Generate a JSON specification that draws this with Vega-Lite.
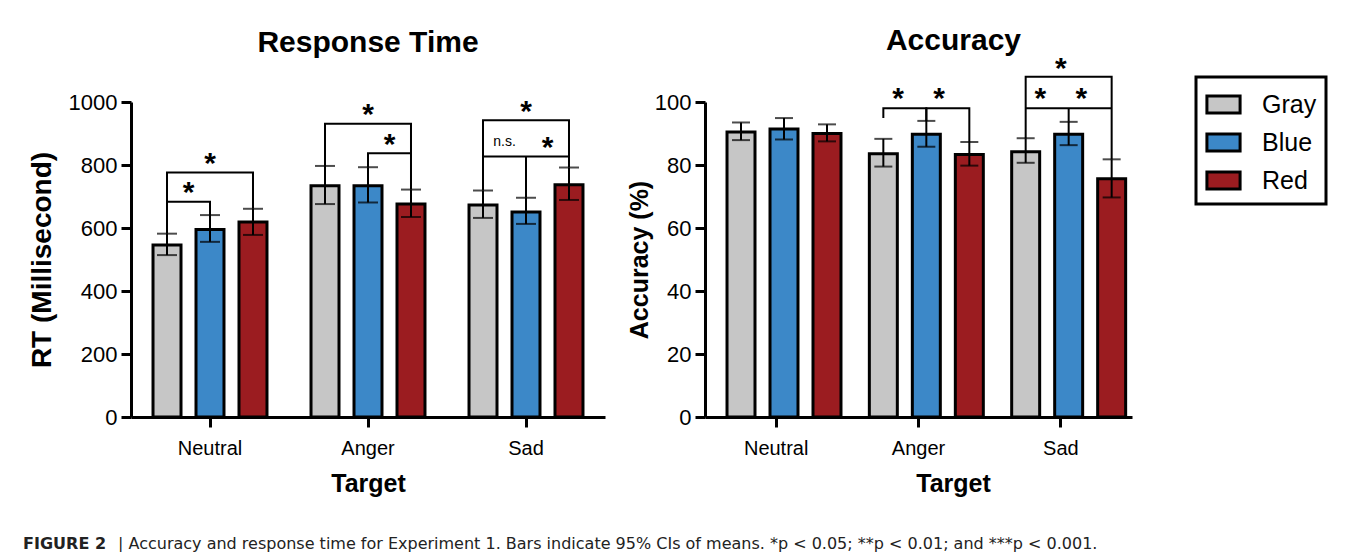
{
  "$schema": "https://vega.github.io/schema/vega-lite/v6.json",
  "padding": {"left": 23, "top": 26, "right": 0, "bottom": 0},
  "background": "white",
  "datasets": {
    "bars": [
      {"measure": "RT", "Target": "Neutral", "Color": "Gray", "mean": 546, "lo": 514, "hi": 582},
      {"measure": "RT", "Target": "Neutral", "Color": "Blue", "mean": 595, "lo": 556, "hi": 641},
      {"measure": "RT", "Target": "Neutral", "Color": "Red", "mean": 619, "lo": 578, "hi": 661},
      {"measure": "RT", "Target": "Anger", "Color": "Gray", "mean": 734, "lo": 676, "hi": 797},
      {"measure": "RT", "Target": "Anger", "Color": "Blue", "mean": 734, "lo": 681, "hi": 793},
      {"measure": "RT", "Target": "Anger", "Color": "Red", "mean": 676, "lo": 635, "hi": 722},
      {"measure": "RT", "Target": "Sad", "Color": "Gray", "mean": 673, "lo": 632, "hi": 719},
      {"measure": "RT", "Target": "Sad", "Color": "Blue", "mean": 651, "lo": 613, "hi": 696},
      {"measure": "RT", "Target": "Sad", "Color": "Red", "mean": 737, "lo": 689, "hi": 792},
      {"measure": "ACC", "Target": "Neutral", "Color": "Gray", "mean": 90.5, "lo": 87.9, "hi": 93.5},
      {"measure": "ACC", "Target": "Neutral", "Color": "Blue", "mean": 91.4, "lo": 88.1, "hi": 94.9},
      {"measure": "ACC", "Target": "Neutral", "Color": "Red", "mean": 90.0, "lo": 87.5, "hi": 92.9},
      {"measure": "ACC", "Target": "Anger", "Color": "Gray", "mean": 83.6, "lo": 79.5, "hi": 88.3},
      {"measure": "ACC", "Target": "Anger", "Color": "Blue", "mean": 89.8, "lo": 85.8, "hi": 94.0},
      {"measure": "ACC", "Target": "Anger", "Color": "Red", "mean": 83.3, "lo": 79.8, "hi": 87.3},
      {"measure": "ACC", "Target": "Sad", "Color": "Gray", "mean": 84.2, "lo": 80.7, "hi": 88.5},
      {"measure": "ACC", "Target": "Sad", "Color": "Blue", "mean": 89.8, "lo": 86.3, "hi": 93.7},
      {"measure": "ACC", "Target": "Sad", "Color": "Red", "mean": 75.6, "lo": 69.7, "hi": 81.8}
    ],
    "brackets": [
      {"measure": "RT", "id": "r1", "ord": 1, "Target": "Neutral", "Color": "Gray", "v": 582},
      {"measure": "RT", "id": "r1", "ord": 2, "Target": "Neutral", "Color": "Gray", "v": 776},
      {"measure": "RT", "id": "r1", "ord": 3, "Target": "Neutral", "Color": "Red", "v": 776},
      {"measure": "RT", "id": "r1", "ord": 4, "Target": "Neutral", "Color": "Red", "v": 661},
      {"measure": "RT", "id": "r2", "ord": 1, "Target": "Neutral", "Color": "Gray", "v": 683},
      {"measure": "RT", "id": "r2", "ord": 2, "Target": "Neutral", "Color": "Blue", "v": 683},
      {"measure": "RT", "id": "r2", "ord": 3, "Target": "Neutral", "Color": "Blue", "v": 641},
      {"measure": "RT", "id": "r3", "ord": 1, "Target": "Anger", "Color": "Gray", "v": 797},
      {"measure": "RT", "id": "r3", "ord": 2, "Target": "Anger", "Color": "Gray", "v": 931},
      {"measure": "RT", "id": "r3", "ord": 3, "Target": "Anger", "Color": "Red", "v": 931},
      {"measure": "RT", "id": "r3", "ord": 4, "Target": "Anger", "Color": "Red", "v": 722},
      {"measure": "RT", "id": "r4", "ord": 1, "Target": "Anger", "Color": "Blue", "v": 793},
      {"measure": "RT", "id": "r4", "ord": 2, "Target": "Anger", "Color": "Blue", "v": 837},
      {"measure": "RT", "id": "r4", "ord": 3, "Target": "Anger", "Color": "Red", "v": 837},
      {"measure": "RT", "id": "r5", "ord": 1, "Target": "Sad", "Color": "Gray", "v": 719},
      {"measure": "RT", "id": "r5", "ord": 2, "Target": "Sad", "Color": "Gray", "v": 942},
      {"measure": "RT", "id": "r5", "ord": 3, "Target": "Sad", "Color": "Red", "v": 942},
      {"measure": "RT", "id": "r5", "ord": 4, "Target": "Sad", "Color": "Red", "v": 792},
      {"measure": "RT", "id": "r6", "ord": 1, "Target": "Sad", "Color": "Gray", "v": 827},
      {"measure": "RT", "id": "r6", "ord": 2, "Target": "Sad", "Color": "Red", "v": 827},
      {"measure": "RT", "id": "r7", "ord": 1, "Target": "Sad", "Color": "Blue", "v": 827},
      {"measure": "RT", "id": "r7", "ord": 2, "Target": "Sad", "Color": "Blue", "v": 696},
      {"measure": "ACC", "id": "a1", "ord": 1, "Target": "Anger", "Color": "Gray", "v": 94.9},
      {"measure": "ACC", "id": "a1", "ord": 2, "Target": "Anger", "Color": "Gray", "v": 98},
      {"measure": "ACC", "id": "a1", "ord": 3, "Target": "Anger", "Color": "Blue", "v": 98},
      {"measure": "ACC", "id": "a1", "ord": 4, "Target": "Anger", "Color": "Blue", "v": 94.0},
      {"measure": "ACC", "id": "a2", "ord": 1, "Target": "Anger", "Color": "Blue", "v": 94.0},
      {"measure": "ACC", "id": "a2", "ord": 2, "Target": "Anger", "Color": "Blue", "v": 98},
      {"measure": "ACC", "id": "a2", "ord": 3, "Target": "Anger", "Color": "Red", "v": 98},
      {"measure": "ACC", "id": "a2", "ord": 4, "Target": "Anger", "Color": "Red", "v": 87.3},
      {"measure": "ACC", "id": "a3", "ord": 1, "Target": "Sad", "Color": "Gray", "v": 88.5},
      {"measure": "ACC", "id": "a3", "ord": 2, "Target": "Sad", "Color": "Gray", "v": 108},
      {"measure": "ACC", "id": "a3", "ord": 3, "Target": "Sad", "Color": "Red", "v": 108},
      {"measure": "ACC", "id": "a3", "ord": 4, "Target": "Sad", "Color": "Red", "v": 81.8},
      {"measure": "ACC", "id": "a4", "ord": 1, "Target": "Sad", "Color": "Gray", "v": 98},
      {"measure": "ACC", "id": "a4", "ord": 2, "Target": "Sad", "Color": "Red", "v": 98},
      {"measure": "ACC", "id": "a5", "ord": 1, "Target": "Sad", "Color": "Blue", "v": 98},
      {"measure": "ACC", "id": "a5", "ord": 2, "Target": "Sad", "Color": "Blue", "v": 93.7}
    ],
    "stars": [
      {"measure": "RT", "Target": "Neutral", "side": "center", "v": 828, "label": "*"},
      {"measure": "RT", "Target": "Neutral", "side": "left", "v": 736, "label": "*"},
      {"measure": "RT", "Target": "Anger", "side": "center", "v": 983, "label": "*"},
      {"measure": "RT", "Target": "Anger", "side": "right", "v": 889, "label": "*"},
      {"measure": "RT", "Target": "Sad", "side": "center", "v": 994, "label": "*"},
      {"measure": "RT", "Target": "Sad", "side": "right", "v": 879, "label": "*"},
      {"measure": "ACC", "Target": "Anger", "side": "left", "v": 103.5, "label": "*"},
      {"measure": "ACC", "Target": "Anger", "side": "right", "v": 103.5, "label": "*"},
      {"measure": "ACC", "Target": "Sad", "side": "left", "v": 103.5, "label": "*"},
      {"measure": "ACC", "Target": "Sad", "side": "right", "v": 103.5, "label": "*"},
      {"measure": "ACC", "Target": "Sad", "side": "center", "v": 113, "label": "*"}
    ],
    "notes": [
      {"measure": "RT", "Target": "Sad", "side": "left", "v": 872, "label": "n.s."}
    ]
  },
  "title": {"text": "FIGURE 2", "orient": "bottom", "anchor": "start", "font": "DejaVu Sans", "fontSize": 16, "fontWeight": "bold", "color": "#222", "offset": 0, "dx": -5, "dy": -16},
  "vconcat": [
    {
      "title": {"text": "|  Accuracy and response time for Experiment 1. Bars indicate 95% CIs of means. *p < 0.05; **p < 0.01; and ***p < 0.001.", "orient": "bottom", "anchor": "start", "font": "DejaVu Sans", "fontSize": 16, "fontWeight": "normal", "color": "#222", "offset": 40, "dx": 90},
      "hconcat": [
        {
          "width": 474,
          "height": 315,
          "title": {"text": "Response Time", "font": "Liberation Sans", "fontSize": 30, "fontWeight": "bold", "color": "black", "anchor": "middle", "frame": "group", "offset": 33},
          "layer": [
            {
              "data": {"name": "bars"},
              "transform": [{"filter": "datum.measure === 'RT'"}],
              "mark": {"type": "bar", "stroke": "black", "strokeWidth": 3},
              "encoding": {
                "x": {"field": "Target", "type": "nominal", "sort": ["Neutral", "Anger", "Sad"], "scale": {"paddingInner": 0, "paddingOuter": 0}, "axis": {"title": "Target", "labelAngle": 0}},
                "xOffset": {"field": "Color", "type": "nominal", "sort": ["Gray", "Blue", "Red"], "scale": {"paddingInner": 0.349, "paddingOuter": 0.512}},
                "y": {"field": "mean", "type": "quantitative", "title": "RT (Millisecond)", "scale": {"domain": [0, 1000], "nice": false}, "axis": {"values": [0, 200, 400, 600, 800, 1000], "format": "d", "titlePadding": 12, "titleFontSize": 28}},
                "color": {"field": "Color", "type": "nominal", "sort": ["Gray", "Blue", "Red"], "scale": {"domain": ["Gray", "Blue", "Red"], "range": ["#c6c6c6", "#3c88c8", "#9b1c20"]}, "legend": {"orient": "none", "legendX": 1065, "legendY": -25, "title": null}}
              }
            },
            {
              "data": {"name": "bars"},
              "transform": [{"filter": "datum.measure === 'RT'"}],
              "mark": {"type": "rule", "color": "black", "strokeWidth": 2},
              "encoding": {
                "x": {"field": "Target", "type": "nominal", "sort": ["Neutral", "Anger", "Sad"]},
                "xOffset": {"field": "Color", "type": "nominal", "sort": ["Gray", "Blue", "Red"]},
                "y": {"field": "lo", "type": "quantitative", "title": "RT (Millisecond)"},
                "y2": {"field": "hi"}
              }
            },
            {
              "data": {"name": "bars"},
              "transform": [{"filter": "datum.measure === 'RT'"}],
              "mark": {"type": "tick", "color": "black", "thickness": 2, "size": 20},
              "encoding": {
                "x": {"field": "Target", "type": "nominal", "sort": ["Neutral", "Anger", "Sad"]},
                "xOffset": {"field": "Color", "type": "nominal", "sort": ["Gray", "Blue", "Red"]},
                "y": {"field": "lo", "type": "quantitative", "title": "RT (Millisecond)"}
              }
            },
            {
              "data": {"name": "bars"},
              "transform": [{"filter": "datum.measure === 'RT'"}],
              "mark": {"type": "tick", "color": "black", "thickness": 2, "size": 20},
              "encoding": {
                "x": {"field": "Target", "type": "nominal", "sort": ["Neutral", "Anger", "Sad"]},
                "xOffset": {"field": "Color", "type": "nominal", "sort": ["Gray", "Blue", "Red"]},
                "y": {"field": "hi", "type": "quantitative", "title": "RT (Millisecond)"}
              }
            },
            {
              "data": {"name": "brackets"},
              "transform": [{"filter": "datum.measure === 'RT'"}],
              "mark": {"type": "line", "color": "black", "strokeWidth": 2, "strokeJoin": "miter"},
              "encoding": {
                "x": {"field": "Target", "type": "nominal", "sort": ["Neutral", "Anger", "Sad"]},
                "xOffset": {"field": "Color", "type": "nominal", "sort": ["Gray", "Blue", "Red"]},
                "y": {"field": "v", "type": "quantitative", "title": "RT (Millisecond)"},
                "detail": {"field": "id"},
                "order": {"field": "ord", "type": "quantitative"}
              }
            },
            {
              "data": {"name": "stars"},
              "transform": [{"filter": "datum.measure === 'RT' && datum.side === 'center'"}],
              "mark": {"type": "text", "font": "Liberation Sans", "fontSize": 30, "fontWeight": "bold", "baseline": "alphabetic", "dy": 17, "color": "black"},
              "encoding": {
                "x": {"field": "Target", "type": "nominal", "sort": ["Neutral", "Anger", "Sad"]},
                "y": {"field": "v", "type": "quantitative", "title": "RT (Millisecond)"},
                "text": {"field": "label"}
              }
            },
            {
              "data": {"name": "stars"},
              "transform": [{"filter": "datum.measure === 'RT' && datum.side === 'left'"}],
              "mark": {"type": "text", "font": "Liberation Sans", "fontSize": 30, "fontWeight": "bold", "baseline": "alphabetic", "dy": 17, "dx": -21.5, "color": "black"},
              "encoding": {
                "x": {"field": "Target", "type": "nominal", "sort": ["Neutral", "Anger", "Sad"]},
                "y": {"field": "v", "type": "quantitative", "title": "RT (Millisecond)"},
                "text": {"field": "label"}
              }
            },
            {
              "data": {"name": "stars"},
              "transform": [{"filter": "datum.measure === 'RT' && datum.side === 'right'"}],
              "mark": {"type": "text", "font": "Liberation Sans", "fontSize": 30, "fontWeight": "bold", "baseline": "alphabetic", "dy": 17, "dx": 21.5, "color": "black"},
              "encoding": {
                "x": {"field": "Target", "type": "nominal", "sort": ["Neutral", "Anger", "Sad"]},
                "y": {"field": "v", "type": "quantitative", "title": "RT (Millisecond)"},
                "text": {"field": "label"}
              }
            },
            {
              "data": {"name": "notes"},
              "mark": {"type": "text", "font": "Liberation Sans", "fontSize": 14, "baseline": "middle", "dx": -21.5, "color": "black"},
              "encoding": {
                "x": {"field": "Target", "type": "nominal", "sort": ["Neutral", "Anger", "Sad"]},
                "y": {"field": "v", "type": "quantitative", "title": "RT (Millisecond)"},
                "text": {"field": "label"}
              }
            }
          ]
        },
        {
          "width": 427,
          "height": 315,
          "title": {"text": "Accuracy", "font": "Liberation Sans", "fontSize": 30, "fontWeight": "bold", "color": "black", "anchor": "middle", "frame": "group", "offset": -2, "dx": 35},
          "layer": [
            {
              "data": {"name": "bars"},
              "transform": [{"filter": "datum.measure === 'ACC'"}],
              "mark": {"type": "bar", "stroke": "black", "strokeWidth": 3},
              "encoding": {
                "x": {"field": "Target", "type": "nominal", "sort": ["Neutral", "Anger", "Sad"], "scale": {"paddingInner": 0, "paddingOuter": 0}, "axis": {"title": "Target", "labelAngle": 0, "titleX": 248}},
                "xOffset": {"field": "Color", "type": "nominal", "sort": ["Gray", "Blue", "Red"], "scale": {"paddingInner": 0.4, "paddingOuter": 0.45}},
                "y": {"field": "mean", "type": "quantitative", "title": "Accuracy (%)", "scale": {"domain": [0, 100], "nice": false}, "axis": {"values": [0, 20, 40, 60, 80, 100], "format": "d", "titlePadding": 2, "titleFontSize": 25}},
                "color": {"field": "Color", "type": "nominal", "sort": ["Gray", "Blue", "Red"], "scale": {"domain": ["Gray", "Blue", "Red"], "range": ["#c6c6c6", "#3c88c8", "#9b1c20"]}, "legend": {"orient": "none", "legendX": 1065, "legendY": -25, "title": null}}
              }
            },
            {
              "data": {"name": "bars"},
              "transform": [{"filter": "datum.measure === 'ACC'"}],
              "mark": {"type": "rule", "color": "black", "strokeWidth": 2},
              "encoding": {
                "x": {"field": "Target", "type": "nominal", "sort": ["Neutral", "Anger", "Sad"]},
                "xOffset": {"field": "Color", "type": "nominal", "sort": ["Gray", "Blue", "Red"]},
                "y": {"field": "lo", "type": "quantitative", "title": "Accuracy (%)"},
                "y2": {"field": "hi"}
              }
            },
            {
              "data": {"name": "bars"},
              "transform": [{"filter": "datum.measure === 'ACC'"}],
              "mark": {"type": "tick", "color": "black", "thickness": 2, "size": 18},
              "encoding": {
                "x": {"field": "Target", "type": "nominal", "sort": ["Neutral", "Anger", "Sad"]},
                "xOffset": {"field": "Color", "type": "nominal", "sort": ["Gray", "Blue", "Red"]},
                "y": {"field": "lo", "type": "quantitative", "title": "Accuracy (%)"}
              }
            },
            {
              "data": {"name": "bars"},
              "transform": [{"filter": "datum.measure === 'ACC'"}],
              "mark": {"type": "tick", "color": "black", "thickness": 2, "size": 18},
              "encoding": {
                "x": {"field": "Target", "type": "nominal", "sort": ["Neutral", "Anger", "Sad"]},
                "xOffset": {"field": "Color", "type": "nominal", "sort": ["Gray", "Blue", "Red"]},
                "y": {"field": "hi", "type": "quantitative", "title": "Accuracy (%)"}
              }
            },
            {
              "data": {"name": "brackets"},
              "transform": [{"filter": "datum.measure === 'ACC'"}],
              "mark": {"type": "line", "color": "black", "strokeWidth": 2, "strokeJoin": "miter"},
              "encoding": {
                "x": {"field": "Target", "type": "nominal", "sort": ["Neutral", "Anger", "Sad"]},
                "xOffset": {"field": "Color", "type": "nominal", "sort": ["Gray", "Blue", "Red"]},
                "y": {"field": "v", "type": "quantitative", "title": "Accuracy (%)"},
                "detail": {"field": "id"},
                "order": {"field": "ord", "type": "quantitative"}
              }
            },
            {
              "data": {"name": "stars"},
              "transform": [{"filter": "datum.measure === 'ACC' && datum.side === 'center'"}],
              "mark": {"type": "text", "font": "Liberation Sans", "fontSize": 30, "fontWeight": "bold", "baseline": "alphabetic", "dy": 17, "color": "black"},
              "encoding": {
                "x": {"field": "Target", "type": "nominal", "sort": ["Neutral", "Anger", "Sad"]},
                "y": {"field": "v", "type": "quantitative", "title": "Accuracy (%)"},
                "text": {"field": "label"}
              }
            },
            {
              "data": {"name": "stars"},
              "transform": [{"filter": "datum.measure === 'ACC' && datum.side === 'left'"}],
              "mark": {"type": "text", "font": "Liberation Sans", "fontSize": 30, "fontWeight": "bold", "baseline": "alphabetic", "dy": 17, "dx": -20.5, "color": "black"},
              "encoding": {
                "x": {"field": "Target", "type": "nominal", "sort": ["Neutral", "Anger", "Sad"]},
                "y": {"field": "v", "type": "quantitative", "title": "Accuracy (%)"},
                "text": {"field": "label"}
              }
            },
            {
              "data": {"name": "stars"},
              "transform": [{"filter": "datum.measure === 'ACC' && datum.side === 'right'"}],
              "mark": {"type": "text", "font": "Liberation Sans", "fontSize": 30, "fontWeight": "bold", "baseline": "alphabetic", "dy": 17, "dx": 20.5, "color": "black"},
              "encoding": {
                "x": {"field": "Target", "type": "nominal", "sort": ["Neutral", "Anger", "Sad"]},
                "y": {"field": "v", "type": "quantitative", "title": "Accuracy (%)"},
                "text": {"field": "label"}
              }
            }
          ]
        }
      ],
      "spacing": 22
    }
  ],
  "config": {
    "view": {"stroke": null},
    "font": "Liberation Sans",
    "axis": {
      "domainColor": "black", "domainWidth": 3, "tickColor": "black", "tickWidth": 3, "tickSize": 10,
      "labelFont": "Liberation Sans", "labelColor": "black", "labelFontSize": 22, "labelPadding": 4,
      "titleFont": "Liberation Sans", "titleFontSize": 27, "titleFontWeight": "bold", "titleColor": "black",
      "grid": false
    },
    "axisX": {"labelFontSize": 20, "labelPadding": 11, "titleFontSize": 25, "titlePadding": 13},
    "legend": {
      "strokeColor": "black", "strokeWidth": 3, "padding": 9, "fillColor": "white",
      "symbolType": "M-1,-0.51H1V0.51H-1Z", "symbolSize": 1100, "symbolStrokeColor": "black", "symbolStrokeWidth": 3, "symbolOpacity": 1,
      "labelFont": "Liberation Sans", "labelFontSize": 25, "labelColor": "black", "labelOffset": 20, "rowPadding": 5
    }
  }
}
